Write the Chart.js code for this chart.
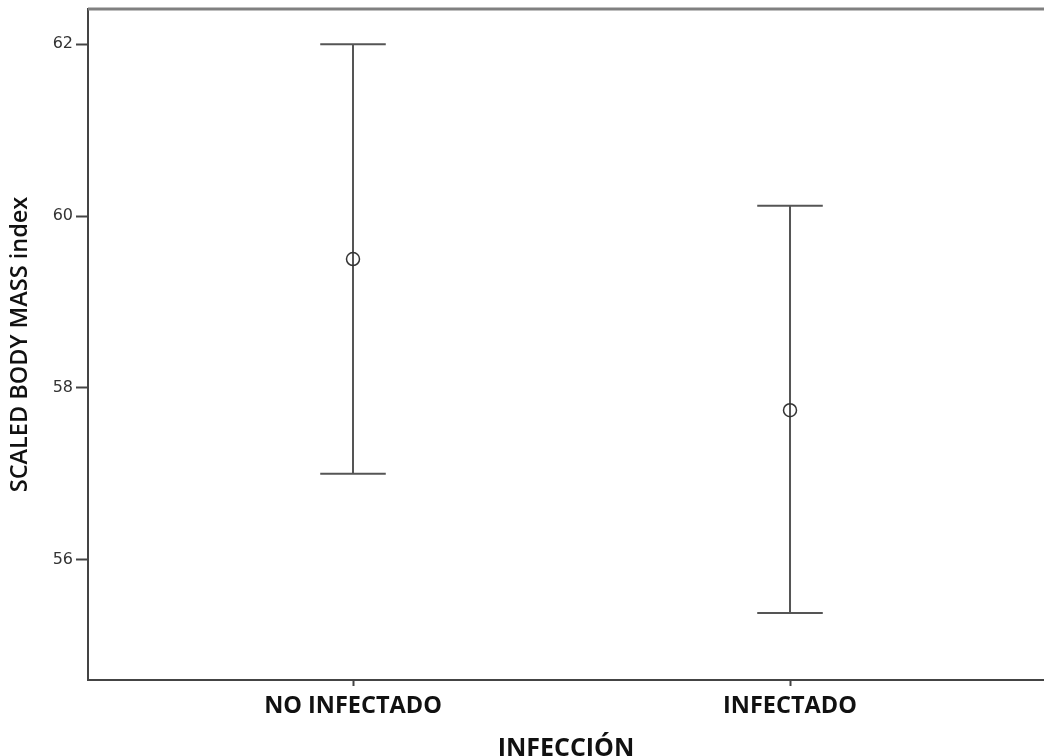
<!DOCTYPE html>
<html>
<head>
<meta charset="utf-8">
<script src="https://cdn.jsdelivr.net/npm/chart.js@4/dist/chart.umd.min.js"></script>
<style>
  html, body { margin: 0; padding: 0; background: #fff; }
  #wrap { width: 1044px; height: 756px; }
</style>
</head>
<body>
<div id="wrap"><canvas id="chart" width="1044" height="756"></canvas></div>
<script>
const groups = ["NO INFECTADO", "INFECTADO"];
const groupPos = [1, 2];
const means = [59.5, 57.74];
const upper = [62.0, 60.12];
const lower = [57.0, 55.38];
const yTicks = [56, 58, 60, 62];

const ctx = document.getElementById("chart");

// top edge of the frame (no right edge in the original)
const frame = {
  id: "frame",
  afterDraw(chart) {
    const a = chart.chartArea;
    const c = chart.ctx;
    c.save();
    c.strokeStyle = "#808080";
    c.lineWidth = 3;
    c.beginPath();
    c.moveTo(a.left, a.top);
    c.lineTo(a.right, a.top);
    c.stroke();
    c.restore();
  },
};

const errorBars = {
  id: "errorBars",
  beforeDatasetsDraw(chart) {
    const x = chart.scales.x;
    const y = chart.scales.y;
    const c = chart.ctx;
    c.save();
    c.strokeStyle = "#555";
    c.lineWidth = 2;
    groupPos.forEach((g, i) => {
      const px = x.getPixelForValue(g);
      const capW = x.getPixelForValue(g + 0.075) - px;
      const top = y.getPixelForValue(upper[i]);
      const bot = y.getPixelForValue(lower[i]);
      c.beginPath();
      c.moveTo(px, top);
      c.lineTo(px, bot);
      c.moveTo(px - capW, top);
      c.lineTo(px + capW, top);
      c.moveTo(px - capW, bot);
      c.lineTo(px + capW, bot);
      c.stroke();
    });
    c.restore();
  },
};

new Chart(ctx, {
  type: "scatter",
  data: {
    datasets: [
      {
        data: groupPos.map((g, i) => ({ x: g, y: means[i] })),
        pointStyle: "circle",
        pointRadius: 6.5,
        pointBorderWidth: 1.5,
        pointBorderColor: "#333",
        pointBackgroundColor: "rgba(0,0,0,0)",
      },
    ],
  },
  options: {
    responsive: false,
    animation: false,
    layout: { autoPadding: false, padding: { top: 9, right: 0, left: 0, bottom: 0 } },
    plugins: { legend: { display: false }, tooltip: { enabled: false } },
    scales: {
      x: {
        type: "linear",
        min: 0.3936,
        max: 2.5812,
        afterBuildTicks: (s) => { s.ticks = groupPos.map((v) => ({ value: v })); },
        afterFit: (s) => { s.height = 76; },
        ticks: {
          callback: (v) => groups[groupPos.indexOf(v)] || "",
          color: "#111",
          font: { family: "Open Sans", size: 23.5, weight: "bold", lineHeight: 1.0 },
          padding: 9,
          maxRotation: 0,
        },
        grid: { drawOnChartArea: false, drawTicks: true, tickLength: 6, color: "#444", tickWidth: 2 },
        border: { display: true, color: "#444", width: 2 },
        title: {
          display: true,
          text: "INFECCIÓN",
          color: "#111",
          font: { family: "Open Sans", size: 25, weight: "bold", lineHeight: 0.8 },
          padding: { top: 0, bottom: -3 },
        },
      },
      y: {
        min: 54.6,
        max: 62.41,
        afterBuildTicks: (s) => { s.ticks = yTicks.map((v) => ({ value: v })); },
        afterFit: (s) => { s.width = 88; s.paddingTop = 0; s.paddingBottom = 0; },
        ticks: {
          color: "#333",
          font: { family: "DejaVu Sans", size: 16 },
          padding: 3,
        },
        grid: { drawOnChartArea: false, drawTicks: true, tickLength: 12, color: "#444", tickWidth: 2 },
        border: { display: true, color: "#444", width: 2 },
        title: {
          display: true,
          text: "SCALED BODY MASS index",
          color: "#111",
          font: { family: "Open Sans", size: 23.5, weight: "600", lineHeight: 1.0 },
          padding: { top: 9, bottom: 0 },
        },
      },
    },
  },
  plugins: [errorBars, frame],
});
</script>
</body>
</html>
